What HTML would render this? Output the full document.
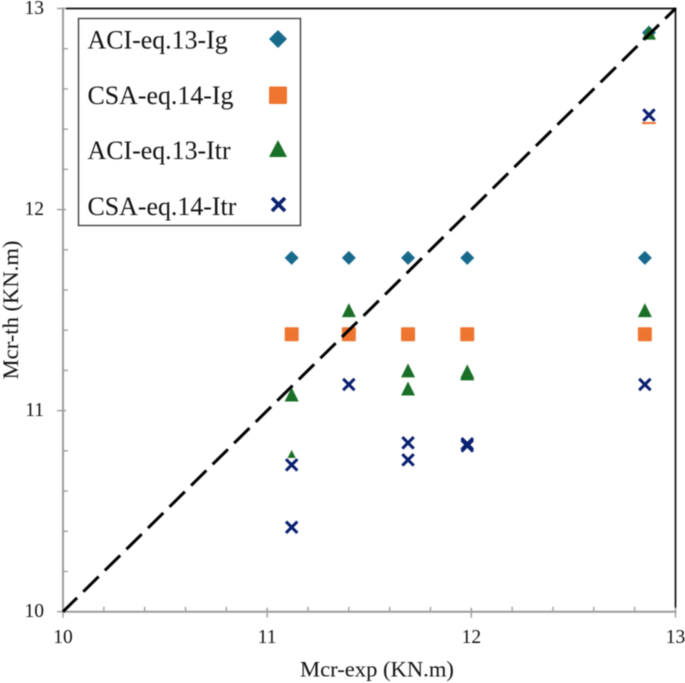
<!DOCTYPE html>
<html lang="en">
<head>
<meta charset="utf-8">
<title>Mcr-th vs Mcr-exp</title>
<style>
  html, body { margin: 0; padding: 0; background: #fff; }
  body { width: 685px; height: 683px; overflow: hidden; }
  svg { display: block; filter: blur(0.4px); }
  text { font-family: "Liberation Serif", serif; fill: #111111; }
  .tick-label { font-size: 19.5px; }
  .axis-title { font-size: 22.6px; }
  .legend-label { font-size: 25.9px; }
</style>
</head>
<body>
<svg id="chart" xmlns="http://www.w3.org/2000/svg" width="685" height="683" viewBox="0 0 685 683">
  <rect x="0" y="0" width="685" height="683" fill="#ffffff"/>
  <g id="frame"></g>
  <g id="ticks"></g>
  <g id="marks"></g>
  <g id="refline"></g>
  <text class="axis-title" x="377" y="676.5" text-anchor="middle">Mcr-exp (KN.m)</text>
  <text class="axis-title" x="0" y="0" text-anchor="middle" transform="translate(18 310) rotate(-90)">Mcr-th (KN.m)</text>
  <g id="legend">
    <rect x="78.5" y="18.5" width="222" height="207" fill="#ffffff" stroke="#333333" stroke-width="1.3"/>
    <g>
      <text class="legend-label" x="87.5" y="48.5">ACI-eq.13-Ig</text>
      <polygon points="278,30 287,39 278,48 269,39" fill="#186a8c"/>
    </g>
    <g>
      <text class="legend-label" x="87.5" y="104">CSA-eq.14-Ig</text>
      <rect x="269" y="86.5" width="18" height="17.5" rx="1" fill="#ee7530"/>
    </g>
    <g>
      <text class="legend-label" x="87.5" y="159">ACI-eq.13-Itr</text>
      <polygon points="278,140 287,157 269,157" fill="#1a6f27"/>
    </g>
    <g>
      <text class="legend-label" x="87.5" y="215">CSA-eq.14-Itr</text>
      <path d="M272 198 L285 211 M285 198 L272 211" stroke="#0a2070" stroke-width="3.6" fill="none"/>
    </g>
  </g>
</svg>
<script>
// Chart data
const xTickLabels = [10, 11, 12, 13];
const yTickLabels = [10, 11, 12, 13];

const aciIgX = [11.12, 11.40, 11.69, 11.98, 12.85, 12.87];
const aciIgY = [11.76, 11.76, 11.76, 11.76, 11.76, 12.88];

const csaIgX = [11.12, 11.40, 11.69, 11.98, 12.85, 12.87];
const csaIgY = [11.38, 11.38, 11.38, 11.38, 11.38, 12.46];

const aciItrX = [11.12, 11.12, 11.40, 11.69, 11.69, 11.98, 11.98, 12.85, 12.87];
const aciItrY = [11.08, 10.77, 11.50, 11.20, 11.11, 11.195, 11.185, 11.50, 12.88];

const csaItrX = [11.12, 11.12, 11.40, 11.69, 11.69, 11.98, 11.98, 12.85, 12.87];
const csaItrY = [10.73, 10.42, 11.13, 10.84, 10.755, 10.835, 10.825, 11.13, 12.47];

const refLineX = [10, 13];
const refLineY = [10, 13];

// Axis functions
const X_MIN = 10, X_MAX = 13, Y_MIN = 10, Y_MAX = 13;
const LEFT = 63, RIGHT = 675.5, TOP = 8.5, BOTTOM = 611.7;
function sx(v) { return LEFT + (v - X_MIN) / (X_MAX - X_MIN) * (RIGHT - LEFT); }
function sy(v) { return BOTTOM - (v - Y_MIN) / (Y_MAX - Y_MIN) * (BOTTOM - TOP); }

const NS = 'http://www.w3.org/2000/svg';
function make(tag, parent, attrs) {
  const el = document.createElementNS(NS, tag);
  for (const k in attrs) el.setAttribute(k, attrs[k]);
  parent.appendChild(el);
  return el;
}

const frame = document.getElementById('frame');
const ticks = document.getElementById('ticks');
const marks = document.getElementById('marks');
const refline = document.getElementById('refline');
const AXIS = '#9c9c9c';

// Frame
const topEdge = make('line', frame, { x1: 66, y1: TOP, x2: RIGHT + 1, y2: TOP, stroke: '#111111', 'stroke-width': 1.7 });


const rightEdge = make('line', frame, { x1: RIGHT, y1: TOP, x2: RIGHT, y2: BOTTOM - 4, stroke: '#111111', 'stroke-width': 1.7 });


const yAxisLine = make('line', frame, { x1: LEFT, y1: TOP - 1, x2: LEFT, y2: BOTTOM + 1, stroke: AXIS, 'stroke-width': 2 });


const xAxisLine = make('line', frame, { x1: LEFT - 1, y1: BOTTOM, x2: RIGHT + 1, y2: BOTTOM, stroke: AXIS, 'stroke-width': 2 });



// X ticks
for (let i = 0; i < xTickLabels.length; i++) {
  const v = xTickLabels[i];
  const major = make('line', ticks, { x1: sx(v), y1: BOTTOM - 4, x2: sx(v), y2: BOTTOM + 6, stroke: AXIS, 'stroke-width': 1.4 });
  
  
  const label = make('text', ticks, { class: 'tick-label', x: sx(v), y: 643, 'text-anchor': 'middle' });
  
  
  label.textContent = v;
  if (i < xTickLabels.length - 1) {
    for (let m = 1; m < 5; m++) {
      const mv = v + m / 5;
      const minor = make('line', ticks, { x1: sx(mv), y1: BOTTOM - 5, x2: sx(mv), y2: BOTTOM, stroke: AXIS, 'stroke-width': 1.3 });
      
      
    }
  }
}

// Y ticks
for (let i = 0; i < yTickLabels.length; i++) {
  const v = yTickLabels[i];
  const major = make('line', ticks, { x1: 57, y1: sy(v), x2: LEFT + 3, y2: sy(v), stroke: AXIS, 'stroke-width': 1.4 });
  
  
  const label = make('text', ticks, { class: 'tick-label', x: 44, y: sy(v) + 5.5, 'text-anchor': 'end' });
  
  
  label.textContent = v;
  if (i < yTickLabels.length - 1) {
    for (let m = 1; m < 5; m++) {
      const mv = v + m / 5;
      const minor = make('line', ticks, { x1: LEFT, y1: sy(mv), x2: LEFT + 5, y2: sy(mv), stroke: AXIS, 'stroke-width': 1.3 });
      
      
    }
  }
}

// Series
for (let i = 0; i < aciIgX.length; i++) {
  const cx = sx(aciIgX[i]), cy = sy(aciIgY[i]);
  const d = make('polygon', marks, { points: `${cx},${cy - 7} ${cx + 7},${cy} ${cx},${cy + 7} ${cx - 7},${cy}`, fill: '#186a8c' });
  
  
}
for (let i = 0; i < csaIgX.length; i++) {
  const cx = sx(csaIgX[i]), cy = sy(csaIgY[i]);
  const s = make('rect', marks, { x: cx - 7, y: cy - 7, width: 14, height: 14, rx: 1, fill: '#ee7530' });
  
  
}
for (let i = 0; i < aciItrX.length; i++) {
  const cx = sx(aciItrX[i]), cy = sy(aciItrY[i]);
  const t = make('polygon', marks, { points: `${cx},${cy - 7} ${cx + 7},${cy + 7} ${cx - 7},${cy + 7}`, fill: '#1a6f27' });
  
  
}
for (let i = 0; i < csaItrX.length; i++) {
  const cx = sx(csaItrX[i]), cy = sy(csaItrY[i]);
  if (!(i > 0 && csaItrX[i] === csaItrX[i - 1] && Math.abs(csaItrY[i] - csaItrY[i - 1]) < 0.05)) {
    const back = make('rect', marks, { x: cx - 7, y: cy - 7, width: 14, height: 14, fill: '#ffffff' });
    
    
  }
  const c = make('path', marks, { d: `M${cx - 5.7} ${cy - 5.7} L${cx + 5.7} ${cy + 5.7} M${cx + 5.7} ${cy - 5.7} L${cx - 5.7} ${cy + 5.7}`, stroke: '#0a2070', 'stroke-width': 3, fill: 'none' });
  
  
}

// 1:1 reference line
const ref = make('line', refline, { x1: sx(refLineX[0]), y1: sy(refLineY[0]), x2: sx(refLineX[1]), y2: sy(refLineY[1]), stroke: '#000000', 'stroke-width': 3, 'stroke-dasharray': '21.5 8.75', 'stroke-dashoffset': 1.75 });


</script>
</body>
</html>
